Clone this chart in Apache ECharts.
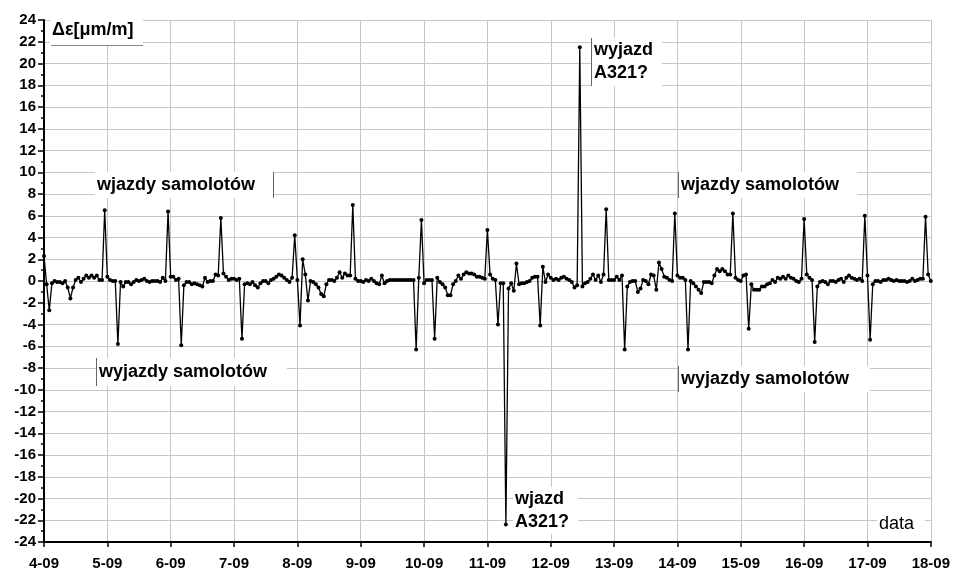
<!DOCTYPE html>
<html>
<head>
<meta charset="utf-8">
<script src="https://cdn.jsdelivr.net/npm/echarts@6/dist/echarts.min.js"></script>
<style>
  html, body { margin: 0; padding: 0; background: #fff; }
  #chart { width: 953px; height: 571px; }
</style>
</head>
<body>
<div id="chart"></div>
<script>
// hourly readings, one array per day (24 values), last value closes at 18-09 00:00
const day0409 = [2.3, -0.3, -2.7, -0.2, 0.0, -0.1, -0.1, -0.2, 0.0, -0.6, -1.6, -0.6, 0.1, 0.3, -0.1, 0.2, 0.5, 0.3, 0.5, 0.3, 0.5, 0.1, 0.1, 6.5];
const day0509 = [0.4, 0.1, 0.0, 0.0, -5.8, -0.1, -0.5, -0.1, -0.1, -0.3, -0.1, 0.1, 0.0, 0.1, 0.2, 0.0, -0.1, 0.0, 0.0, 0.0, -0.1, 0.3, 0.0, 6.4];
const day0609 = [0.4, 0.4, 0.1, 0.2, -5.9, -0.4, -0.1, -0.1, -0.3, -0.2, -0.3, -0.4, -0.5, 0.3, -0.1, 0.0, 0.0, 0.6, 0.5, 5.8, 0.7, 0.4, 0.1, 0.2];
const day0709 = [0.2, 0.1, 0.2, -5.3, -0.3, -0.2, -0.3, -0.1, -0.4, -0.6, -0.2, 0.0, 0.0, -0.2, 0.1, 0.2, 0.4, 0.6, 0.5, 0.3, 0.1, -0.1, 0.3, 4.2];
const day0809 = [0.1, -4.1, 2.0, 0.6, -1.8, 0.0, -0.1, -0.3, -0.6, -1.2, -1.4, -0.3, 0.1, 0.1, 0.0, 0.3, 0.8, 0.3, 0.7, 0.5, 0.5, 7.0, 0.2, 0.0];
const day0909 = [0.0, -0.1, 0.1, 0.0, 0.2, 0.0, -0.2, -0.3, 0.5, -0.2, 0.0, 0.1, 0.1, 0.1, 0.1, 0.1, 0.1, 0.1, 0.1, 0.1, 0.1, -6.3, 0.3, 5.6];
const day1009 = [-0.2, 0.1, 0.1, 0.1, -5.3, 0.3, -0.1, -0.3, -0.6, -1.3, -1.3, -0.3, 0.0, 0.5, 0.2, 0.6, 0.8, 0.7, 0.7, 0.6, 0.4, 0.4, 0.3, 0.2];
const day1109 = [4.7, 0.6, 0.2, 0.1, -4.0, -0.2, -0.2, -22.4, -0.7, -0.2, -0.9, 1.6, -0.3, -0.2, -0.2, -0.1, 0.0, 0.3, 0.4, 0.4, -4.1, 1.3, -0.1, 0.6];
const day1209 = [0.3, 0.1, 0.2, 0.1, 0.3, 0.4, 0.2, 0.1, -0.1, -0.6, -0.4, 21.5, -0.5, -0.2, -0.1, 0.2, 0.6, 0.1, 0.5, -0.1, 0.6, 6.6, 0.1, 0.1];
const day1309 = [0.1, 0.4, 0.1, 0.5, -6.3, -0.5, -0.1, 0.0, 0.0, -1.0, -0.7, 0.1, 0.0, -0.3, 0.6, 0.5, -0.8, 1.7, 1.1, 0.4, 0.3, 0.1, 0.0, 6.2];
const day1409 = [0.5, 0.3, 0.3, 0.1, -6.3, 0.0, -0.2, -0.5, -0.8, -1.1, -0.1, -0.1, -0.1, -0.2, 0.5, 1.1, 0.9, 1.1, 0.9, 0.6, 0.6, 6.2, 0.3, 0.1];
const day1509 = [0.0, 0.5, 0.6, -4.4, -0.3, -0.8, -0.8, -0.8, -0.5, -0.5, -0.3, -0.2, 0.1, -0.1, 0.3, 0.2, 0.4, 0.2, 0.5, 0.3, 0.2, 0.0, -0.1, 0.2];
const day1609 = [5.7, 0.6, 0.3, 0.1, -5.6, -0.5, -0.1, 0.0, -0.1, -0.3, 0.0, 0.0, -0.1, 0.1, 0.2, -0.1, 0.3, 0.5, 0.3, 0.2, 0.1, 0.2, 0.0, 6.0];
const day1709 = [0.5, -5.4, -0.3, 0.0, 0.0, -0.1, 0.1, 0.1, 0.2, 0.1, 0.0, 0.1, 0.0, 0.0, 0.0, -0.1, 0.0, 0.2, 0.0, 0.1, 0.2, 0.2, 5.9, 0.6];
const lastValue = [0.0];

const dayLabels = ['4-09', '5-09', '6-09', '7-09', '8-09', '9-09', '10-09', '11-09',
  '12-09', '13-09', '14-09', '15-09', '16-09', '17-09', '18-09'];

const readings = [].concat(day0409, day0509, day0609, day0709, day0809, day0909, day1009,
  day1109, day1209, day1309, day1409, day1509, day1609, day1709, lastValue);

// x in days from 4-09 00:00
const points = readings.map((v, i) => [i / 24, v]);

const FONT = 'Liberation Sans, Arial, sans-serif';
const gridColor = '#c6c6c6';

function note(x, y, w, h, text, opts) {
  opts = opts || {};
  const children = [
    { type: 'rect', z: 100, shape: { x: x, y: y, width: w, height: h }, style: { fill: '#fff' } },
    {
      type: 'text',
      z: 101,
      style: {
        text: text,
        x: x + 2,
        y: y + h / 2,
        font: (opts.weight || 'bold') + ' 18px ' + FONT,
        fill: '#000',
        verticalAlign: 'middle',
        align: 'left',
        lineHeight: 23
      }
    }
  ];
  const edge = { stroke: '#666', lineWidth: 1 };
  if (opts.lineLeft) {
    children.push({ type: 'line', z: 101, shape: { x1: x - 0.5, y1: y, x2: x - 0.5, y2: y + h }, style: edge });
  }
  if (opts.lineRight) {
    children.push({ type: 'line', z: 101, shape: { x1: x + w + 0.5, y1: y, x2: x + w + 0.5, y2: y + h }, style: edge });
  }
  if (opts.lineBottom) {
    children.push({ type: 'line', z: 101, shape: { x1: x + 1, y1: y + h + 0.5, x2: x + w, y2: y + h + 0.5 }, style: { stroke: '#888', lineWidth: 1 } });
  }
  return { type: 'group', children: children };
}

const chart = echarts.init(document.getElementById('chart'));

chart.setOption({
  animation: false,
  backgroundColor: '#fff',
  grid: { left: 44, right: 20, top: 20, bottom: 29 },
  xAxis: {
    type: 'value',
    min: 0,
    max: 14,
    interval: 1,
    axisLine: { onZero: false, lineStyle: { color: '#000', width: 2 } },
    axisTick: { length: 5, lineStyle: { color: '#000', width: 1.5 } },
    axisLabel: {
      formatter: (v) => dayLabels[v],
      color: '#000',
      fontFamily: FONT,
      fontWeight: 'bold',
      fontSize: 15,
      margin: 14
    },
    splitLine: { show: true, lineStyle: { color: gridColor, width: 1 } }
  },
  yAxis: {
    type: 'value',
    min: -24,
    max: 24,
    interval: 2,
    axisLine: { show: true, lineStyle: { color: '#000', width: 2 } },
    axisTick: { show: true, length: 6, lineStyle: { color: '#000', width: 1.5 } },
    minorTick: { show: true, splitNumber: 2, length: 3, lineStyle: { color: '#000', width: 1.5 } },
    axisLabel: {
      color: '#000',
      fontFamily: FONT,
      fontWeight: 'bold',
      fontSize: 15,
      margin: 8
    },
    splitLine: { show: true, lineStyle: { color: gridColor, width: 1 } }
  },
  series: [{
    type: 'line',
    data: points,
    showSymbol: true,
    showAllSymbol: true,
    symbol: 'circle',
    symbolSize: 4,
    lineStyle: { color: '#000', width: 1.3 },
    itemStyle: { color: '#000' },
    emphasis: { disabled: true }
  }],
  graphic: [
    note(50, 16, 93, 29, 'Δε[μm/m]', { lineBottom: true }),
    note(95, 172, 178, 26, 'wjazdy samolotów', { lineRight: true }),
    note(97, 358, 190, 28, 'wyjazdy samolotów', { lineLeft: true }),
    note(679, 172, 178, 26, 'wjazdy samolotów', { lineLeft: true }),
    note(679, 366, 191, 26, 'wyjazdy samolotów', { lineLeft: true }),
    note(592, 38, 70, 48, 'wyjazd\nA321?', { lineLeft: true }),
    note(513, 487, 65, 47, 'wjazd\nA321?'),
    note(877, 515, 48, 19, 'data', { weight: 'normal' })
  ]
});
</script>
</body>
</html>
